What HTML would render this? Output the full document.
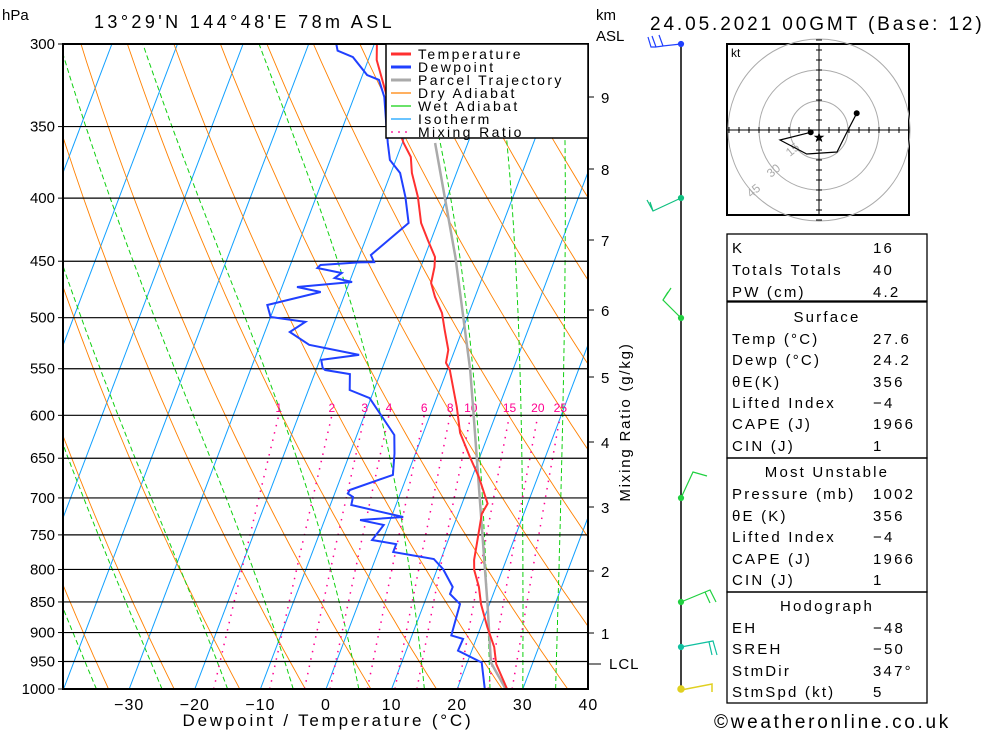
<!DOCTYPE html>
<html><head><meta charset="utf-8"><style>
html,body{margin:0;padding:0;background:#fff;}
svg{display:block;font-family:"Liberation Sans",sans-serif;}
</style></head><body>
<svg id="chart" width="1000" height="733" viewBox="0 0 1000 733" xmlns="http://www.w3.org/2000/svg">
<defs><clipPath id="plotclip"><rect x="63" y="44" width="525" height="645"/></clipPath></defs>
<g id="bg" clip-path="url(#plotclip)"></g>
<g id="hlines"></g>
<g id="series" clip-path="url(#plotclip)"></g>
<rect x="63" y="44" width="525" height="645" fill="none" stroke="#000" stroke-width="2"/>
<g id="axes" font-size="15"></g>
<text x="2" y="20" font-size="15">hPa</text>
<text x="94" y="28" font-size="18" letter-spacing="3.4">13°29'N 144°48'E 78m ASL</text>
<text x="596" y="20" font-size="15">km</text>
<text x="596" y="41" font-size="15">ASL</text>
<text x="650" y="30" font-size="19" letter-spacing="2.9">24.05.2021 00GMT (Base: 12)</text>
<text x="328" y="726" font-size="17" text-anchor="middle" letter-spacing="2.8">Dewpoint / Temperature (°C)</text>
<text transform="translate(630,422) rotate(-90)" font-size="15" text-anchor="middle" letter-spacing="1.8">Mixing Ratio (g/kg)</text>
<g id="legend">
<rect x="386" y="44" width="202" height="94" fill="#fff" stroke="#000" stroke-width="1.5"/>
</g>
<g id="winds">
<line x1="681" y1="44" x2="681" y2="689" stroke="#000" stroke-width="1.5"/>
<g stroke="#2040ff" fill="none" stroke-width="1.2"><path d="M681 44 L663 46 L659 35 M663 46 L656 47 L652 36 M656 47 L651 47 L648 37"/><circle cx="681" cy="44" r="2.5" fill="#2040ff"/></g>
<g stroke="#10c080" fill="none" stroke-width="1.2"><path d="M681 198 L653 211 L647 200 M653 211 L650 202"/><circle cx="681" cy="198" r="2.5" fill="#10c080"/></g>
<g stroke="#20d040" fill="none" stroke-width="1.2"><path d="M681 318 L663 300 L671 288 M663 300 L668 292"/><circle cx="681" cy="318" r="2.5" fill="#20d040"/></g>
<g stroke="#20d040" fill="none" stroke-width="1.2"><path d="M681 498 L693 472 L707 476"/><circle cx="681" cy="498" r="2.5" fill="#20d040"/></g>
<g stroke="#20d040" fill="none" stroke-width="1.2"><path d="M681 602 L710 590 L716 602 M705 592 L710 603"/><circle cx="681" cy="602" r="2.5" fill="#20d040"/></g>
<g stroke="#10c0a0" fill="none" stroke-width="1.2"><path d="M681 647 L713 641 L717 655 M709 642 L712 655"/><circle cx="681" cy="647" r="2.5" fill="#10c0a0"/></g>
<g stroke="#e0d020" fill="none" stroke-width="1.5"><path d="M681 690 L712 684 L712 692"/><circle cx="681" cy="689" r="3" fill="#e0d020"/></g>
</g>
<g id="hodo">
<rect x="727" y="44" width="182" height="171" fill="#fff" stroke="#000" stroke-width="2"/>
<g fill="none" stroke="#aaa" stroke-width="1"><circle cx="819" cy="130" r="29"/><circle cx="819" cy="130" r="60"/><circle cx="819" cy="130" r="91"/></g>
<line x1="727" y1="130" x2="909" y2="130" stroke="#000"/><line x1="819" y1="44" x2="819" y2="215" stroke="#000"/>
<g id="hodoticks" stroke="#000"></g>
<text x="731" y="57" font-size="12">kt</text>
<g fill="#aaa" font-size="12"><text transform="translate(790,157) rotate(-40)">15</text><text transform="translate(771,178) rotate(-40)">30</text><text transform="translate(751,198) rotate(-40)">45</text></g>
<polyline points="856.7,113.3 847,132 837,152 806.7,154 780,140 810.7,132.3" fill="none" stroke="#000" stroke-width="1.2"/>
<circle cx="856.7" cy="113.3" r="3"/><circle cx="810.7" cy="132.3" r="3"/>
<text x="819" y="142" font-size="14" text-anchor="middle">★</text>
</g>
<g id="table" font-size="15" letter-spacing="2.2">
<g fill="none" stroke="#000" stroke-width="1.3"><rect x="727" y="234" width="200" height="67"/><rect x="727" y="302" width="200" height="156"/><rect x="727" y="458" width="200" height="134"/><rect x="727" y="592" width="200" height="111"/></g>
</g>
<text x="714" y="728" font-size="19" letter-spacing="2.7">©weatheronline.co.uk</text>
<script>
// ---- sounding data ----
const tempP = [300,309.1,328.7,360.9,370.4,381.7,399.1,419,432.5,446.5,454.9,468.7,481,495.7,511.7,531,544,551.3,590.7,620,648.5,673,707.5,721,763,786,800.8,826.6,853.3,890.7,924.6,954.4,1000];
const tempT = [-29.6,-28.7,-25.4,-19.8,-17.9,-16.8,-14.5,-12.5,-10.5,-8.4,-7.9,-7.5,-6.1,-4.1,-2.7,-1.0,-0.6,0.4,3.6,5.6,8.5,11.0,13.9,13.6,14.6,15.1,15.7,17.4,18.7,21.0,23.2,24.5,27.6];
const dewP = [300,303.8,307.4,317.9,320.8,331.2,347.7,360.9,372.5,381.7,399.1,419,444.8,450.7,451,453.2,455.7,460,464.3,467.8,472.2,476.6,488.3,499.4,504,513.6,526,536,541,549.3,551.3,555.5,572.3,581,622.4,644.2,670.6,689.7,694.4,698.8,709.3,725.4,729.4,736.3,757.2,763,774.3,784.6,799.4,826.6,837.5,853.3,905,910.8,930.8,951.8,1000];
const dewT = [-35.8,-35.2,-32.5,-29.3,-27.2,-25.4,-23.6,-22.2,-20.9,-18.6,-16.4,-14.4,-18.3,-17.4,-19.7,-25.4,-25.7,-21.7,-22.5,-19.6,-27.7,-23.8,-31.2,-30.0,-24.4,-26.2,-22.5,-14.3,-19.8,-19.1,-18.6,-14.6,-13.7,-10.2,-4.3,-3.2,-2.2,-7.9,-8.0,-7.0,-6.8,1.8,-4.6,-0.7,-1.6,2.3,2.3,8.9,10.9,13.4,13.4,15.5,16.0,18.0,17.9,22.2,24.2];
const parcelP = [1000,951.8,853.3,597.4,551.3,446.5,360.9];
const parcelT = [27.4,23.6,19.7,6.5,3.5,-5.3,-15.0];
const pressureTicks = [300,350,400,450,500,550,600,650,700,750,800,850,900,950,1000];
const tempTicks = [-30,-20,-10,0,10,20,30,40];
const kmTicks = [1,2,3,4,5,6,7,8,9];
const kmY = [633,571,507,442,377,310,240,169,97];
const mixRatios = [1,2,3,4,6,8,10,15,20,25];
const legendNames = ["Temperature","Dewpoint","Parcel Trajectory","Dry Adiabat","Wet Adiabat","Isotherm","Mixing Ratio"];
const tableLabels = ["K","Totals Totals","PW (cm)","Surface","Temp (°C)","Dewp (°C)","θE(K)","Lifted Index","CAPE (J)","CIN (J)","Most Unstable","Pressure (mb)","θE (K)","Lifted Index","CAPE (J)","CIN (J)","Hodograph","EH","SREH","StmDir","StmSpd (kt)"];
const tableValues = ["16","40","4.2","","27.6","24.2","356","−4","1966","1","","1002","356","−4","1966","1","","−48","−50","347°","5"];

const NS="http://www.w3.org/2000/svg";
const Y0=44,Y1=689,T0X=326,PXC=6.56,SKEW=0.38;
function yP(p){return Y0+Math.log(p/300)/Math.log(1000/300)*(Y1-Y0);}
function xT(t,p){return T0X+PXC*t+SKEW*(Y1-yP(p));}
function mk(tag,attrs,parent){const e=document.createElementNS(NS,tag);for(const k in attrs)e.setAttribute(k,attrs[k]);parent.appendChild(e);return e;}
function pathFrom(ps,ts){return ps.map((p,i)=>(i?'L':'M')+xT(ts[i],p).toFixed(1)+' '+yP(p).toFixed(1)).join(' ');}
const bg=document.getElementById('bg');
for(let t=-120;t<=50;t+=10){const l=mk('line',{x1:xT(t,1000),y1:Y1,x2:xT(t,300),y2:Y0,stroke:'#10a0ff','stroke-width':1},bg);

}
for(let th=200;th<=500;th+=10){const ps=[],ts=[];for(let p=1000;p>=300;p-=10){ps.push(p);ts.push(th*Math.pow(p/1000,0.286)-273.15);}
const e=mk('path',{d:pathFrom(ps,ts),fill:'none',stroke:'#ff8000','stroke-width':0.9},bg);

}
function es(t){return 6.112*Math.exp(17.67*t/(t+243.5));}
function wetLine(t0){const ps=[],ts=[];let T=t0+273.15;for(let p=1000;p>=300;p-=5){ps.push(p);ts.push(T-273.15);
const rs=0.622*es(T-273.15)/(p-es(T-273.15));const Lv=2.5e6,Rd=287,cp=1004;
const dTdp=(Rd*T+Lv*rs)/(p*(cp+Lv*Lv*rs*0.622/(Rd*T*T)));T-=dTdp*5;}return pathFrom(ps,ts);}
[-45,-35,-25,-15,-5,5,15,25,30,35].forEach(t=>{const e=mk('path',{d:wetLine(t),fill:'none',stroke:'#10d010','stroke-width':1,'stroke-dasharray':'5,3'},bg);

});
function tdFromW(w,p){const e=w*p/(622+w);const a=Math.log(e/6.112);return 243.5*a/(17.67-a);}
mixRatios.forEach(w=>{const ps=[],ts=[];for(let p=1000;p>=600;p-=10){ps.push(p);ts.push(tdFromW(w,p));}
const e=mk('path',{d:pathFrom(ps,ts),fill:'none',stroke:'#ff0090','stroke-width':1.5,'stroke-dasharray':'1.5,6'},bg);


const tx=mk('text',{x:xT(tdFromW(w,600),600),y:412,'font-size':12,fill:'#ff0090','text-anchor':'middle'},bg);tx.textContent=w;

});
const hl=document.getElementById('hlines'),ax=document.getElementById('axes');
pressureTicks.forEach(p=>{const y=yP(p);mk('line',{x1:63,y1:y,x2:588,y2:y,stroke:'#000','stroke-width':1.2},hl);
mk('line',{x1:58,y1:y,x2:63,y2:y,stroke:'#000'},ax);
const t=mk('text',{x:55,y:y+5,'text-anchor':'end'},ax);t.textContent=p;

});
tempTicks.forEach(v=>{const x=T0X+PXC*v;const t=mk('text',{x:x,y:710,'text-anchor':'middle','font-size':16,'letter-spacing':1},ax);t.textContent=v<0?'−'+(-v):v;

});
kmTicks.forEach((k,i)=>{mk('line',{x1:588,y1:kmY[i],x2:594,y2:kmY[i],stroke:'#000'},ax);
const t=mk('text',{x:601,y:kmY[i]+6,'font-size':15},ax);t.textContent=k;

});
mk('line',{x1:588,y1:664,x2:601,y2:664,stroke:'#000'},ax);
const lcl=mk('text',{x:609,y:669,'font-size':15,'letter-spacing':1},ax);lcl.textContent='LCL';


const sg=document.getElementById('series');
const s1=mk('path',{d:pathFrom(parcelP,parcelT),fill:'none',stroke:'#aaa','stroke-width':2.5},sg);


const s2=mk('path',{d:pathFrom(dewP,dewT),fill:'none',stroke:'#2040ff','stroke-width':2},sg);


const s3=mk('path',{d:pathFrom(tempP,tempT),fill:'none',stroke:'#ff3030','stroke-width':2},sg);


const lg=document.getElementById('legend');
const lstyle=[['#ff3030',3,''],['#2040ff',3,''],['#aaa',3,''],['#ff8000',1.2,''],['#10d010',1.2,''],['#10a0ff',1.2,''],['#ff0090',1.3,'2,5']];
legendNames.forEach((n,i)=>{const y=54+i*13;const l=mk('line',{x1:391,y1:y,x2:411,y2:y,stroke:lstyle[i][0],'stroke-width':lstyle[i][1]},lg);if(lstyle[i][2])l.setAttribute('stroke-dasharray',lstyle[i][2]);
const t=mk('text',{x:418,y:y+5,'font-size':14,'letter-spacing':2.4},lg);t.textContent=n;

});
const ht=document.getElementById('hodoticks');
for(let d=-90;d<=90;d+=10){if(d===0)continue;mk('line',{x1:819+d,y1:127,x2:819+d,y2:133},ht);mk('line',{x1:816,y1:130+d,x2:822,y2:130+d},ht);}
const tb=document.getElementById('table');
const rowY=[247,269,291,316,338,359,381,402,423,445,471,493,515,536,558,579,605,627,648,670,691];
tableLabels.forEach((lab,i)=>{const hdr=tableValues[i]===''; const t=mk('text',{x:hdr?827:732,y:rowY[i]+6,'text-anchor':hdr?'middle':'start'},tb);t.textContent=lab;


if(!hdr){const v=mk('text',{x:873,y:rowY[i]+6},tb);v.textContent=tableValues[i];

}});
</script>
</svg>
</body></html>
